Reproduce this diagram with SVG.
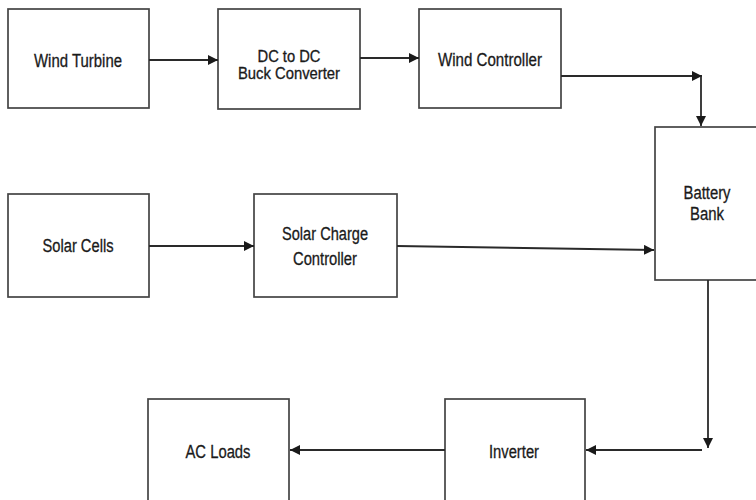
<svg xmlns="http://www.w3.org/2000/svg" width="756" height="500" viewBox="0 0 756 500">
<style>
.box{fill:#fff;stroke:#444;stroke-width:1.7}
.lbl{font-family:"Liberation Sans",Arial,sans-serif;font-size:18px;fill:#1a1a1a;stroke:#1a1a1a;stroke-width:0.3;text-anchor:middle}
.sm{font-size:16px}
.edge{fill:none;stroke:#2a2a2a;stroke-width:1.8}
</style>
<defs>
<marker id="ah" viewBox="0 0 10 10" refX="10" refY="5" markerWidth="10" markerHeight="10" markerUnits="userSpaceOnUse" orient="auto">
<path d="M0,0 L10,5 L0,10 z" fill="#1a1a1a"/>
</marker>
</defs>
<rect width="756" height="500" fill="#fff"/>
<g id="wind-turbine"><rect class="box" x="8" y="9" width="141" height="99"/><text class="lbl" x="78" y="67" textLength="88" lengthAdjust="spacingAndGlyphs">Wind Turbine</text></g>
<g id="dc-dc"><rect class="box" x="218" y="9" width="142" height="100"/><text class="lbl sm" x="289" y="62" textLength="63" lengthAdjust="spacingAndGlyphs">DC to DC</text><text class="lbl sm" x="289" y="79" textLength="102" lengthAdjust="spacingAndGlyphs">Buck Converter</text></g>
<g id="wind-controller"><rect class="box" x="419" y="9" width="142" height="99"/><text class="lbl" x="490" y="66" textLength="104" lengthAdjust="spacingAndGlyphs">Wind Controller</text></g>
<g id="battery-bank"><rect class="box" x="655" y="127" width="110" height="153"/><text class="lbl" x="707" y="199" textLength="47" lengthAdjust="spacingAndGlyphs">Battery</text><text class="lbl" x="707" y="220" textLength="34" lengthAdjust="spacingAndGlyphs">Bank</text></g>
<g id="solar-cells"><rect class="box" x="8" y="194" width="141" height="103"/><text class="lbl" x="78" y="252" textLength="71" lengthAdjust="spacingAndGlyphs">Solar Cells</text></g>
<g id="solar-charge-controller"><rect class="box" x="254" y="194" width="143" height="103"/><text class="lbl" x="325" y="240" textLength="86" lengthAdjust="spacingAndGlyphs">Solar Charge</text><text class="lbl" x="325" y="265" textLength="64" lengthAdjust="spacingAndGlyphs">Controller</text></g>
<g id="ac-loads"><rect class="box" x="148" y="399" width="141" height="110"/><text class="lbl" x="218" y="458" textLength="65" lengthAdjust="spacingAndGlyphs">AC Loads</text></g>
<g id="inverter"><rect class="box" x="445" y="399" width="140" height="110"/><text class="lbl" x="514" y="458" textLength="50" lengthAdjust="spacingAndGlyphs">Inverter</text></g>
<g id="connectors">
<path class="edge" d="M149,60 H218" marker-end="url(#ah)"/>
<path class="edge" d="M360,58 H419" marker-end="url(#ah)"/>
<path class="edge" d="M561,76 H702" marker-end="url(#ah)"/>
<path class="edge" d="M701,76 V126" marker-end="url(#ah)"/>
<path class="edge" d="M149,246 H254" marker-end="url(#ah)"/>
<path class="edge" d="M397,246 L654,250" marker-end="url(#ah)"/>
<path class="edge" d="M708,280 V448" marker-end="url(#ah)"/>
<path class="edge" d="M702,450 H586" marker-end="url(#ah)"/>
<path class="edge" d="M445,450 H290" marker-end="url(#ah)"/>
</g>
</svg>
